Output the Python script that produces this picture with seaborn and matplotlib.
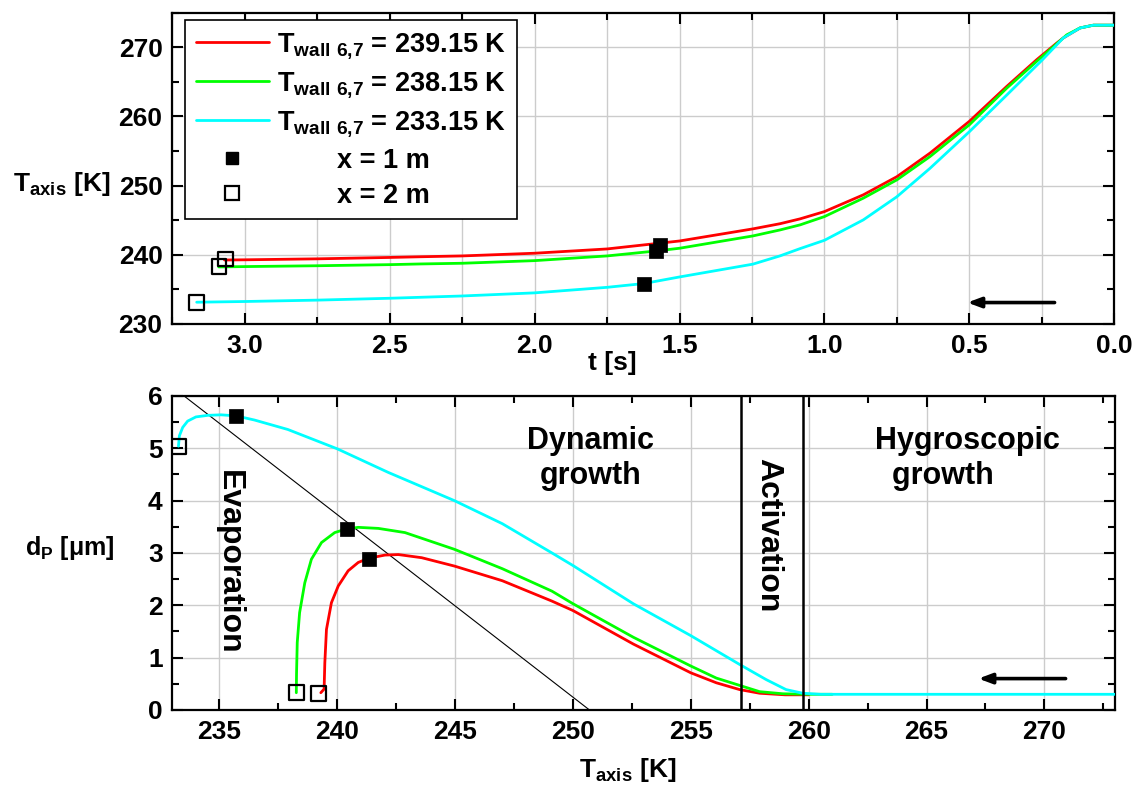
import matplotlib
matplotlib.use("Agg")
import matplotlib.pyplot as plt
import seaborn as sns
import pandas as pd
from matplotlib.ticker import MultipleLocator, FormatStrFormatter
from matplotlib.lines import Line2D

# ---------------- data ----------------
wall_labels = ["239.15 K", "238.15 K", "233.15 K"]
line_colors = ["#ff0000", "#00ff00", "#00ffff"]

# top panel: T_axis [K] versus time t [s]
t_red = [0.000, 0.072, 0.118, 0.176, 0.199, 0.268, 0.371, 0.500, 0.636, 0.750, 0.866, 1.000,
         1.084, 1.153, 1.247, 1.500, 1.750, 2.000, 2.250, 2.394, 2.500, 2.750, 3.000, 3.070]
T_red = [273.2, 273.2, 272.8, 271.35, 270.6, 268.2, 264.35, 259.3, 254.7, 251.3, 248.67, 246.25,
         245.2, 244.5, 243.75, 242.0, 240.85, 240.23, 239.84, 239.72, 239.62, 239.42, 239.28,
         239.25]
t_green = [0.000, 0.072, 0.118, 0.164, 0.199, 0.268, 0.371, 0.500, 0.636, 0.750, 0.866, 1.000,
           1.084, 1.153, 1.247, 1.500, 1.580, 1.750, 2.000, 2.250, 2.394, 2.500, 2.750, 3.000,
           3.090]
T_green = [273.2, 273.2, 272.8, 271.8, 270.5, 267.96, 264.1, 258.8, 254.2, 250.84, 248.19, 245.53,
           244.33, 243.6, 242.73, 240.95, 240.56, 239.84, 239.16, 238.78, 238.68, 238.58, 238.42,
           238.3, 238.25]
t_cyan = [0.000, 0.072, 0.118, 0.176, 0.248, 0.371, 0.500, 0.636, 0.750, 0.866, 1.000, 1.084,
          1.153, 1.247, 1.500, 1.623, 1.750, 2.000, 2.250, 2.394, 2.500, 2.750, 3.000, 3.166]
T_cyan = [273.2, 273.2, 272.8, 271.35, 268.2, 263.1, 257.8, 252.5, 248.4, 245.05, 242.1, 240.9,
          239.85, 238.65, 236.8, 235.85, 235.3, 234.5, 234.05, 233.86, 233.72, 233.45, 233.25,
          233.15]

# markers (top panel): x = 1 m (filled) and x = 2 m (open)
x1m_t = [1.569, 1.580, 1.623]
x1m_T = [241.43, 240.56, 235.75]
x2m_t = [3.068, 3.089, 3.166]
x2m_T = [239.4, 238.3, 233.1]

# bottom panel: d_p [um] versus T_axis [K]
Tb_red = [239.30, 239.44, 239.47, 239.54, 239.75, 240.04, 240.46, 240.89, 241.34, 242.02, 242.59,
          243.58, 244.97, 247.00, 249.11, 250.00, 252.56, 255.00, 256.08, 257.07, 257.92, 259.00,
          260.00]
d_red = [0.33, 0.40, 0.90, 1.54, 2.05, 2.37, 2.66, 2.82, 2.90, 2.96, 2.97, 2.91, 2.75, 2.47, 2.08,
         1.90, 1.26, 0.71, 0.52, 0.39, 0.32, 0.29, 0.29]
Tb_green = [238.26, 238.27, 238.30, 238.40, 238.62, 238.90, 239.33, 239.89, 240.39, 240.89, 241.74,
            242.87, 244.97, 247.00, 249.11, 250.00, 252.56, 255.00, 256.08, 257.07, 257.92, 258.90,
            260.00, 261.00]
d_green = [0.33, 0.70, 1.29, 1.86, 2.43, 2.88, 3.20, 3.39, 3.46, 3.49, 3.47, 3.39, 3.07, 2.70, 2.27,
           2.03, 1.39, 0.84, 0.61, 0.47, 0.35, 0.31, 0.30, 0.30]
Tb_cyan = [233.26, 233.30, 233.44, 233.65, 234.00, 234.50, 235.07, 235.71, 236.49, 237.90, 240.00,
           242.16, 244.97, 247.00, 249.11, 250.00, 252.56, 255.00, 257.07, 258.20, 259.04, 259.75,
           260.50, 273.00]
d_cyan = [5.04, 5.24, 5.40, 5.52, 5.60, 5.63, 5.64, 5.62, 5.54, 5.36, 4.99, 4.54, 4.00, 3.56, 3.00,
          2.76, 2.03, 1.42, 0.87, 0.58, 0.39, 0.32, 0.30, 0.30]

x1m_Tb = [241.34, 240.39, 235.71]
x1m_d = [2.89, 3.45, 5.62]
x2m_Tb = [239.21, 238.26, 233.26]
x2m_d = [0.31, 0.33, 5.04]

diag_T = [233.5, 250.7]
diag_d = [6.0, 0.0]
activation_bounds = [257.14, 259.76]

# ---------------- style ----------------
sns.set_theme(style="ticks")
plt.rcParams.update({
    "font.family": ["Liberation Sans", "DejaVu Sans"],
    "font.weight": "bold",
    "mathtext.default": "regular",
    "axes.linewidth": 1.6,
    "axes.edgecolor": "black",
    "xtick.color": "black",
    "ytick.color": "black",
    "text.color": "black",
})

fig = plt.figure(figsize=(11.39, 7.86), dpi=100)
ax1 = fig.add_axes([0.1513, 0.5878, 0.8270, 0.3960])
ax2 = fig.add_axes([0.1513, 0.0967, 0.8277, 0.3995])

names = ["red", "green", "cyan"]
pal = dict(zip(names, line_colors))

top_df = pd.concat([
    pd.DataFrame({"t": t, "T": T, "series": n})
    for t, T, n in zip([t_red, t_green, t_cyan], [T_red, T_green, T_cyan], names)
])
bot_df = pd.concat([
    pd.DataFrame({"Tb": T, "d": d, "series": n})
    for T, d, n in zip([Tb_red, Tb_green, Tb_cyan], [d_red, d_green, d_cyan], names)
])

sns.lineplot(data=top_df, x="t", y="T", hue="series", hue_order=names, palette=pal,
             sort=False, estimator=None, lw=2.0, legend=False, ax=ax1, zorder=3)
sns.lineplot(data=bot_df, x="Tb", y="d", hue="series", hue_order=names, palette=pal,
             sort=False, estimator=None, lw=2.0, legend=False, ax=ax2, zorder=3)
sns.lineplot(x=diag_T, y=diag_d, color="black", lw=0.8, ax=ax2, zorder=2)

for ax, xf, yf, xo, yo in [(ax1, x1m_t, x1m_T, x2m_t, x2m_T), (ax2, x1m_Tb, x1m_d, x2m_Tb, x2m_d)]:
    sns.scatterplot(x=xf, y=yf, marker="s", color="black", edgecolor="black", linewidth=0.5,
                    s=90, ax=ax, zorder=5)
    sns.scatterplot(x=xo, y=yo, marker="s", facecolor="none", edgecolor="black", linewidth=1.6,
                    s=115, ax=ax, zorder=5)

for xv in activation_bounds:
    ax2.axvline(xv, color="black", lw=1.8, zorder=4)

# axes limits / ticks
ax1.set_xlim(3.25, 0.0)
ax1.set_ylim(230, 275)
ax1.xaxis.set_major_locator(MultipleLocator(0.5))
ax1.xaxis.set_minor_locator(MultipleLocator(0.25))
ax1.xaxis.set_major_formatter(FormatStrFormatter("%.1f"))
ax1.yaxis.set_major_locator(MultipleLocator(10))
ax1.yaxis.set_minor_locator(MultipleLocator(5))
ax1.grid(which="both", axis="x", color="#cccccc", lw=1.0)
ax1.grid(which="major", axis="y", color="#cccccc", lw=1.0)

ax2.set_xlim(233, 273)
ax2.set_ylim(0, 6)
ax2.xaxis.set_major_locator(MultipleLocator(5))
ax2.xaxis.set_minor_locator(MultipleLocator(2.5))
ax2.yaxis.set_major_locator(MultipleLocator(1))
ax2.yaxis.set_minor_locator(MultipleLocator(0.5))
ax2.grid(which="major", color="#cccccc", lw=1.0)

for ax in (ax1, ax2):
    ax.set_axisbelow(True)
    ax.set_xlabel("")
    ax.set_ylabel("")
    ax.tick_params(which="both", direction="in", top=True, right=True, width=1.5,
                   labelsize=19, pad=7, colors="black")
    ax.tick_params(which="major", length=8)
    ax.tick_params(which="minor", length=5)
    for sp in ax.spines.values():
        sp.set_linewidth(1.6)
        sp.set_color("black")
        sp.set_visible(True)

# arrows
ax1.annotate("", xy=(0.507, 233.1), xytext=(0.206, 233.1),
             arrowprops=dict(arrowstyle="-|>,head_length=0.8,head_width=0.3", color="black",
                             lw=2.6, shrinkA=0, shrinkB=0, mutation_scale=10))
ax2.annotate("", xy=(267.2, 0.6), xytext=(270.9, 0.6),
             arrowprops=dict(arrowstyle="-|>,head_length=0.8,head_width=0.3", color="black",
                             lw=2.6, shrinkA=0, shrinkB=0, mutation_scale=10))

# region annotations
ax2.text(250.75, 4.80, "Dynamic\ngrowth", ha="center", va="center", fontsize=22,
         fontweight="bold", linespacing=1.2)
ax2.text(266.74, 4.80, "Hygroscopic\n  growth", ha="center", va="center", fontsize=22,
         fontweight="bold", linespacing=1.2, multialignment="left")
ax2.text(235.42, 2.83, "Evaporation", rotation=-90, ha="center", va="center", fontsize=23,
         fontweight="bold")
ax2.text(258.3, 3.34, "Activation", rotation=-90, ha="center", va="center", fontsize=23,
         fontweight="bold")

# legend
handles = [Line2D([], [], color=c, lw=2) for c in line_colors] + [
    Line2D([], [], ls="none", marker="s", color="black", markersize=9),
    Line2D([], [], ls="none", marker="s", mfc="none", mec="black", mew=1.6, markersize=10.5),
]
labels = [r"T$_{\mathregular{wall\ 6{,}7}}$ = " + w for w in wall_labels] + [
    "        x = 1 m", "        x = 2 m"]
leg = ax1.legend(handles, labels, loc="upper left", bbox_to_anchor=(0.0135, 0.9766),
                 fontsize=19.5, frameon=True, fancybox=False, framealpha=1, edgecolor="black",
                 handlelength=2.7, handletextpad=0.3, borderpad=0.4, labelspacing=0.33,
                 borderaxespad=0)
leg.get_frame().set_linewidth(1.2)
leg.set_zorder(10)

# axis titles
fig.text(0.011, 0.757, r"T$_{\mathregular{axis}}$ [K]", ha="left", va="baseline", fontsize=19)
fig.text(0.538, 0.529, "t [s]", ha="center", va="baseline", fontsize=19)
fig.text(0.022, 0.294, r"d$_{\mathregular{P}}$ [μm]", ha="left", va="baseline", fontsize=18)
fig.text(0.5514, 0.0115, r"T$_{\mathregular{axis}}$ [K]", ha="center", va="baseline", fontsize=19)

fig.savefig("out.png", dpi=100)
